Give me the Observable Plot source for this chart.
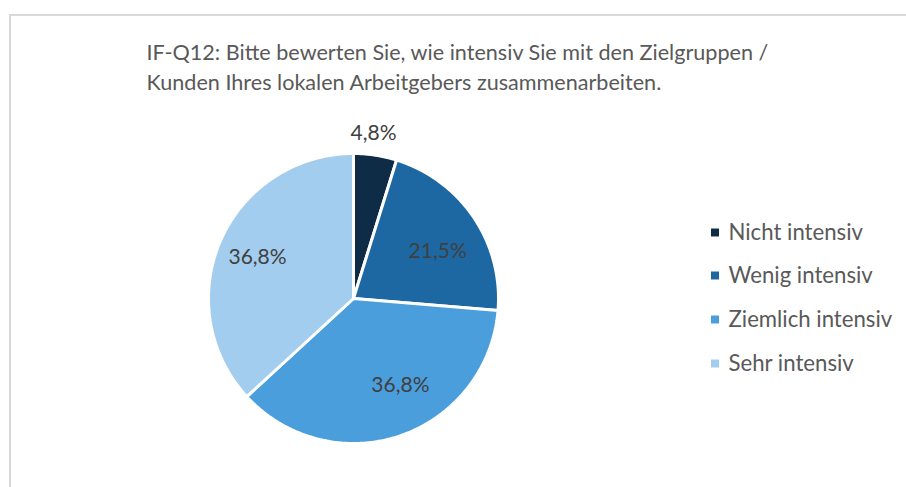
<!DOCTYPE html>
<html>
<head>
<meta charset="utf-8">
<script src="https://cdn.jsdelivr.net/npm/d3@7"></script>
<script src="https://cdn.jsdelivr.net/npm/@observablehq/plot@0.6"></script>
<style>
  html, body { margin: 0; padding: 0; background: #fff; }
  #wrap { position: relative; width: 906px; height: 487px; overflow: hidden; }
  #frame { position: absolute; left: 9px; top: 14px; width: 920px; height: 500px;
           border-top: 2px solid #D9D9D9; border-left: 2px solid #D9D9D9; box-sizing: border-box; }
  #chart { position: absolute; left: 0; top: 0; }
</style>
</head>
<body>
<div id="wrap"><div id="frame"></div><div id="chart"></div></div>
<script>
// ---- data ----
const categories = ["Nicht intensiv", "Wenig intensiv", "Ziemlich intensiv", "Sehr intensiv"];
const values = [4.8, 21.5, 36.8, 36.8];
const labels = ["4,8%", "21,5%", "36,8%", "36,8%"];
const colors = ["#0E2C45", "#1D68A2", "#4A9EDC", "#A3CDEE"];
const titleLines = ["IF-Q12: Bitte bewerten Sie, wie intensiv Sie mit den Zielgruppen /",
                    "Kunden Ihres lokalen Arbeitgebers zusammenarbeiten."];

// ---- layout ----
const W = 906, H = 487;
const cx = 353, cy = 298, R = 145;
const ux = (px) => (px - cx) / R;
const uy = (py) => (cy - py) / R;
const FONT = "Lato, 'Noto Sans', sans-serif";
// small "best fit" nudges of the data labels, in pixels (layout only)
const labelNudge = [[-5, 0], [0, 9], [14, -9], [-3, 0]];

const arcs = d3.pie().sort(null).value(d => d)(values);

// polygon points for each slice (in radius units), derived from the pie angles
const slicePts = arcs.map((a) => {
  const pts = [{x: 0, y: 0}];
  const n = Math.max(2, Math.ceil((a.endAngle - a.startAngle) / (Math.PI / 180)));
  for (let k = 0; k <= n; k++) {
    const t = a.startAngle + (a.endAngle - a.startAngle) * k / n;
    pts.push({x: Math.sin(t), y: Math.cos(t)});
  }
  pts.push({x: 0, y: 0});
  return pts;
});

const labelData = arcs.map((a, i) => {
  const m = (a.startAngle + a.endAngle) / 2;
  const rr = values[i] < 10 ? 1.15 : 0.7;
  return {x: rr * Math.sin(m), y: rr * Math.cos(m), label: labels[i], i};
});

const legendRows = [232, 275, 319, 363];
const legendData = categories.map((c, i) => ({c, color: colors[i], y: uy(legendRows[i])}));

const marks = [
  ...slicePts.map((pts, i) => Plot.line(pts, {
    x: "x", y: "y", fill: colors[i], stroke: "white", strokeWidth: 3, strokeLinejoin: "miter"
  })),
  ...labelData.map((d) => Plot.text([d], {
    x: "x", y: "y", text: "label", fill: "#404040", fontSize: 21, fontFamily: FONT,
    textAnchor: "middle", lineAnchor: "middle", dx: labelNudge[d.i][0], dy: labelNudge[d.i][1]
  })),
  Plot.dot(legendData, {
    x: ux(714.5), y: "y", symbol: "square", r: 4.5, fill: "color", stroke: null
  }),
  Plot.text(legendData, {
    x: ux(728), y: "y", text: "c", fill: "#595959", fontSize: 22.2, fontFamily: FONT,
    textAnchor: "start", lineAnchor: "middle"
  }),
  Plot.text(titleLines.map((t, i) => ({t, y: uy([59, 89][i])})), {
    x: ux(146), y: "y", text: "t", fill: "#595959", fontSize: 21.6, fontFamily: FONT,
    textAnchor: "start", lineAnchor: "bottom"
  })
];

const chart = Plot.plot({
  width: W, height: H,
  margin: 0,
  x: {domain: [ux(0), ux(W)], axis: null},
  y: {domain: [uy(H), uy(0)], axis: null},
  color: {type: "identity"},
  style: {background: "transparent", overflow: "visible"},
  marks
});
document.getElementById("chart").appendChild(chart);
</script>
</body>
</html>
